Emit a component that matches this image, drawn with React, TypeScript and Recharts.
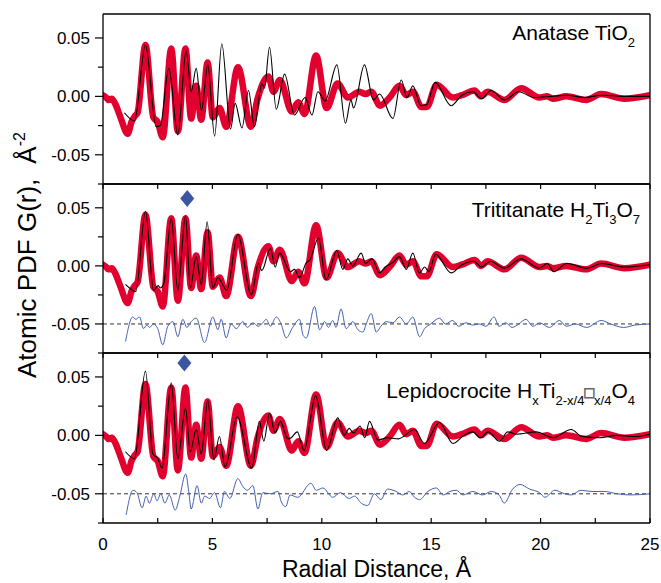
import { ComposedChart, Line, Scatter, XAxis, YAxis, ReferenceLine } from 'recharts'

type Pt = [number, number]

// experimental PDF, same data in every panel
const observed: Pt[] = [
  [0, 0.001], [0.15, -0.001], [0.25, -0.003], [0.4, -0.002], [0.55, -0.006], [0.8, -0.018],
  [1.13, -0.032], [1.3, -0.022], [1.45, -0.017], [1.58, -0.014], [1.94, 0.044], [2.3, -0.018],
  [2.5, -0.022], [2.73, -0.035], [3.12, 0.041], [3.42, -0.03], [3.77, 0.041], [4.03, -0.019],
  [4.26, 0.009], [4.49, -0.02], [4.78, 0.029], [5.02, -0.018], [5.33, -0.01], [5.63, -0.026],
  [6.17, 0.025], [6.76, -0.026], [7.08, -0.001], [7.56, 0.017], [7.79, 0.004], [8.08, 0.014],
  [8.63, -0.013], [8.92, -0.005], [9.21, -0.015], [9.74, 0.035], [10.22, -0.01], [10.72, 0.011],
  [11.19, -0.001], [11.72, 0.004], [12.0, 0.002], [12.26, 0.004], [12.66, -0.008], [13.1, -0.001],
  [13.55, 0.009], [13.86, 0.001], [14.16, 0.004], [14.55, -0.009], [14.8, -0.009], [15.25, 0.01],
  [15.99, -0.001], [16.4, 0.001], [16.98, 0.005], [17.28, 0], [17.58, 0.004], [18.35, -0.003],
  [19.11, 0.007], [19.95, -0.001], [20.3, 0], [20.56, -0.002], [21.17, 0], [22.08, -0.003],
  [22.77, 0.002], [23.83, -0.002], [25, 0.001],
]

const anataseFit: Pt[] = [
  [0.98, -0.014], [1.44, -0.021], [1.94, 0.044], [2.43, -0.026], [2.62, -0.025], [3.01, 0.024],
  [3.42, -0.033], [3.8, 0.039], [4.03, 0.004], [4.26, 0.024], [4.5, -0.012], [4.79, 0.027],
  [5.1, -0.034], [5.43, 0.045], [5.83, -0.028], [6.04, -0.006], [6.35, -0.027], [6.65, 0.005],
  [6.92, -0.026], [7.26, 0.011], [7.38, 0.007], [7.61, 0.042], [7.92, -0.011], [8.3, 0.019],
  [8.75, -0.016], [9.24, -0.001], [9.55, -0.016], [9.82, 0.004], [10.15, -0.004], [10.69, 0.027],
  [11.08, -0.023], [11.33, -0.003], [11.45, -0.01], [11.95, 0.027], [12.36, -0.003], [12.64, 0.002],
  [13.25, -0.019], [13.63, 0.014], [13.9, -0.001], [14.16, 0.009], [14.54, -0.008], [14.8, -0.007],
  [15.18, 0.012], [15.91, -0.008], [16.4, 0.001], [16.9, 0.004], [17.3, -0.002], [17.73, 0.005],
  [18.35, -0.003], [19.0, 0.004], [19.7, -0.001], [20.5, 0], [21.2, 0.001], [22.0, -0.001],
  [22.8, 0.001], [23.8, 0], [25, 0],
]

const trititanateFit: Pt[] = [
  [1.03, -0.016], [1.5, -0.022], [1.94, 0.047], [2.31, -0.021], [2.52, -0.017], [2.62, -0.019],
  [2.78, -0.015], [3.12, 0.041], [3.42, -0.021], [3.77, 0.043], [3.99, -0.019], [4.26, 0.008],
  [4.49, -0.016], [4.76, 0.038], [5.02, -0.019], [5.25, -0.01], [5.66, -0.021], [6.16, 0.027],
  [6.78, -0.025], [7.11, 0.002], [7.26, -0.004], [7.65, 0.015], [7.87, -0.001], [8.07, 0.011],
  [8.57, -0.005], [8.75, -0.003], [8.98, -0.01], [9.3, 0.003], [9.45, 0.005], [9.85, 0.024],
  [10.19, -0.012], [10.69, 0.013], [10.96, -0.003], [11.19, 0.006], [11.42, 0], [11.8, 0.011],
  [12.0, 0.002], [12.3, 0.006], [12.63, -0.006], [12.9, -0.001], [13.25, 0.003], [13.55, 0.008],
  [13.86, -0.003], [14.16, 0.011], [14.46, -0.006], [14.7, -0.001], [14.9, -0.005], [15.2, 0.01],
  [15.91, -0.006], [16.4, 0.001], [16.95, 0.004], [17.3, -0.001], [17.7, 0.004], [18.35, -0.002],
  [19.1, 0.006], [19.95, -0.002], [20.3, 0.002], [20.6, -0.005], [21.2, 0.002], [22.1, -0.002],
  [22.8, 0.002], [23.8, -0.001], [25, 0.001],
]

// difference curve, drawn offset to -0.05
const trititanateDiff: Pt[] = [
  [1.03, -0.065], [1.36, -0.044], [1.5, -0.046], [1.67, -0.044], [1.85, -0.054], [2.0, -0.051],
  [2.13, -0.053], [2.3, -0.05], [2.5, -0.054], [2.73, -0.068], [2.96, -0.052], [3.2, -0.048],
  [3.42, -0.061], [3.65, -0.046], [3.83, -0.053], [4.03, -0.048], [4.26, -0.045], [4.64, -0.066],
  [5.02, -0.044], [5.25, -0.055], [5.4, -0.046], [5.63, -0.062], [5.86, -0.05], [6.09, -0.054],
  [6.39, -0.048], [6.6, -0.053], [6.85, -0.049], [7.1, -0.052], [7.3, -0.049], [7.46, -0.046],
  [7.65, -0.052], [7.92, -0.044], [8.14, -0.05], [8.37, -0.062], [8.67, -0.053], [8.98, -0.046],
  [9.15, -0.06], [9.29, -0.062], [9.67, -0.035], [9.9, -0.055], [10.13, -0.048], [10.3, -0.053],
  [10.5, -0.047], [10.65, -0.053], [10.88, -0.037], [11.11, -0.054], [11.42, -0.048], [11.65, -0.055],
  [11.88, -0.057], [12.03, -0.05], [12.26, -0.041], [12.49, -0.057], [12.7, -0.052], [12.95, -0.048],
  [13.25, -0.049], [13.55, -0.044], [13.86, -0.05], [14.16, -0.044], [14.47, -0.061], [14.7, -0.054],
  [14.98, -0.05], [15.38, -0.045], [15.65, -0.05], [15.98, -0.047], [16.25, -0.052], [16.6, -0.049],
  [16.9, -0.051], [17.2, -0.05], [17.5, -0.052], [17.87, -0.044], [18.1, -0.052], [18.4, -0.049],
  [18.7, -0.053], [19.0, -0.05], [19.33, -0.046], [19.65, -0.052], [19.95, -0.049], [20.4, -0.053],
  [20.86, -0.047], [21.17, -0.052], [21.6, -0.05], [22.1, -0.053], [22.77, -0.047], [23.2, -0.05],
  [23.8, -0.053], [24.3, -0.051], [25, -0.05],
]

const lepidoFit: Pt[] = [
  [1.03, -0.014], [1.44, -0.02], [1.94, 0.055], [2.28, -0.016], [2.51, -0.02], [2.7, -0.028],
  [3.12, 0.045], [3.42, -0.02], [3.77, 0.023], [3.99, -0.014], [4.26, 0.005], [4.49, -0.016],
  [4.79, 0.03], [5.07, -0.021], [5.32, -0.001], [5.58, -0.027], [6.13, 0.016], [6.8, -0.028],
  [7.15, 0.012], [7.35, -0.005], [7.61, 0.019], [7.87, 0.002], [8.1, 0.012], [8.45, -0.003],
  [8.6, -0.002], [8.88, 0.003], [9.19, -0.013], [9.72, 0.034], [10.22, -0.013], [10.73, 0.015],
  [11.03, 0], [11.25, 0.006], [11.45, 0.002], [11.75, 0.008], [11.96, -0.002], [12.18, 0.012],
  [12.56, -0.004], [13.0, -0.002], [13.5, -0.003], [14.24, 0.005], [14.69, -0.007], [15.38, 0.011],
  [15.99, -0.007], [16.5, 0], [16.9, 0.003], [17.25, -0.002], [17.6, 0.003], [18.12, -0.005],
  [18.5, 0.003], [18.9, 0.001], [19.8, 0.003], [20.56, -0.002], [21.4, 0.005], [21.9, -0.001],
  [22.7, -0.002], [23.5, 0], [24.3, -0.001], [25, 0.001],
]

const lepidoDiff: Pt[] = [
  [1.06, -0.068], [1.37, -0.047], [1.55, -0.049], [1.79, -0.062], [1.97, -0.052], [2.12, -0.058],
  [2.32, -0.05], [2.47, -0.056], [2.64, -0.05], [2.83, -0.058], [3.03, -0.051], [3.3, -0.064],
  [3.51, -0.052], [3.78, -0.033], [3.92, -0.048], [4.03, -0.063], [4.3, -0.043], [4.49, -0.058],
  [4.65, -0.052], [4.87, -0.054], [5.1, -0.049], [5.37, -0.062], [5.55, -0.048], [5.8, -0.054],
  [6.16, -0.037], [6.4, -0.044], [6.6, -0.047], [6.85, -0.043], [7.08, -0.063], [7.3, -0.049],
  [7.65, -0.05], [8.0, -0.048], [8.15, -0.057], [8.35, -0.061], [8.55, -0.051], [8.9, -0.053],
  [9.5, -0.041], [9.75, -0.047], [10.05, -0.045], [10.5, -0.053], [10.85, -0.049], [11.25, -0.054],
  [11.5, -0.052], [11.8, -0.058], [12.1, -0.06], [12.4, -0.05], [12.7, -0.055], [13.0, -0.046],
  [13.4, -0.048], [13.7, -0.051], [14.0, -0.048], [14.24, -0.053], [14.47, -0.055], [14.85, -0.048],
  [15.23, -0.045], [15.55, -0.051], [15.85, -0.048], [16.15, -0.047], [16.45, -0.051], [16.9, -0.048],
  [17.35, -0.051], [17.75, -0.048], [18.1, -0.051], [18.34, -0.058], [18.72, -0.046], [19.06, -0.042],
  [19.5, -0.046], [19.95, -0.049], [20.2, -0.053], [20.65, -0.047], [21.1, -0.05], [21.4, -0.051],
  [21.85, -0.047], [22.3, -0.048], [22.9, -0.048], [23.5, -0.05], [24.1, -0.051], [25, -0.05],
]

const trititanateMarker: Pt[] = [[3.85, 0.058]]
const lepidoMarker: Pt[] = [[3.72, 0.062]]

const xTicks = [0, 2.5, 5, 7.5, 10, 12.5, 15, 17.5, 20, 22.5, 25]
const yTicks = [-0.075, -0.05, -0.025, 0, 0.025, 0.05]
const yLabelled = [-0.05, 0, 0.05]
const yDomain: [number, number] = [-0.075, 0.0705]
const diffBaseline = -0.05

const FONT = '"Liberation Sans", Arial, Helvetica, sans-serif'
const RED = '#e2002f'
const BLUE = '#4461b0'
const AXIS = { stroke: '#000', strokeWidth: 1.3 }

const rows = (pts: Pt[]) => pts.map(([r, g]) => ({ r, g }))

function YTick(props: any) {
  const { x, y, payload } = props
  const v = payload.value as number
  const labelled = yLabelled.some((t) => Math.abs(t - v) < 1e-9)
  return (
    <g>
      <line x1={x - (labelled ? 8 : 5)} x2={x} y1={y} y2={y} stroke="#000" strokeWidth={1.2} />
      {labelled && (
        <text x={x - 13} y={y} dy="0.36em" textAnchor="end" fontSize={17} fontFamily={FONT} fill="#000">
          {v.toFixed(2)}
        </text>
      )}
    </g>
  )
}

function XTickBottom(props: any) {
  const { x, y, payload } = props
  const v = payload.value as number
  return (
    <g>
      <line x1={x} x2={x} y1={y} y2={y - 5} stroke="#000" strokeWidth={1.2} />
      {v % 5 === 0 && (
        <text x={x} y={y + 27} textAnchor="middle" fontSize={17} fontFamily={FONT} fill="#000">
          {v}
        </text>
      )}
    </g>
  )
}

function XTickTop(props: any) {
  const { x, y } = props
  return <line x1={x} x2={x} y1={y} y2={y + 5} stroke="#000" strokeWidth={1.2} />
}

function Diamond(props: any) {
  const { cx, cy } = props
  return <polygon points={`${cx},${cy - 8.5} ${cx + 7},${cy} ${cx},${cy + 8.5} ${cx - 7},${cy}`} fill="#3d55a3" />
}

interface PanelProps {
  top: number
  height: number
  mTop: number
  mBottom: number
  fit: Pt[]
  diff?: Pt[]
  marker?: Pt[]
  topTicks: boolean
  bottomTicks: boolean
}

// each axis takes 1px of space, the margins make up the rest
function Panel({ top, height, mTop, mBottom, fit, diff, marker, topTicks, bottomTicks }: PanelProps) {
  return (
    <div style={{ position: 'absolute', left: 0, top, width: 661, height }}>
      <ComposedChart
        width={661}
        height={height}
        margin={{ top: mTop - 1, right: 10, bottom: mBottom - 1, left: 102 }}
        style={{ overflow: 'visible' }}
      >
        <XAxis
          xAxisId="b"
          type="number"
          dataKey="r"
          domain={[0, 25]}
          ticks={xTicks}
          interval={0}
          allowDataOverflow
          height={1}
          tickSize={0}
          tickMargin={0}
          tickLine={false}
          tick={bottomTicks ? (p: any) => <XTickBottom {...p} /> : false}
          axisLine={AXIS}
        />
        <XAxis
          xAxisId="t"
          orientation="top"
          type="number"
          dataKey="r"
          domain={[0, 25]}
          ticks={xTicks}
          interval={0}
          allowDataOverflow
          height={1}
          tickSize={0}
          tickMargin={0}
          tickLine={false}
          tick={topTicks ? (p: any) => <XTickTop {...p} /> : false}
          axisLine={AXIS}
        />
        <YAxis
          yAxisId="l"
          type="number"
          dataKey="g"
          domain={yDomain}
          ticks={yTicks}
          interval={0}
          allowDataOverflow
          width={1}
          tickSize={0}
          tickMargin={0}
          tickLine={false}
          tick={(p: any) => <YTick {...p} />}
          axisLine={AXIS}
        />
        <YAxis
          yAxisId="r"
          orientation="right"
          type="number"
          dataKey="g"
          domain={yDomain}
          allowDataOverflow
          width={1}
          tick={false}
          tickLine={false}
          axisLine={AXIS}
        />
        {diff && (
          <ReferenceLine xAxisId="b" yAxisId="l" y={diffBaseline} stroke="#333" strokeWidth={1} strokeDasharray="4 3" />
        )}
        <Line
          xAxisId="b"
          yAxisId="l"
          data={rows(observed)}
          dataKey="g"
          type="monotone"
          stroke={RED}
          strokeWidth={6.5}
          strokeLinecap="round"
          strokeLinejoin="round"
          dot={false}
          isAnimationActive={false}
        />
        <Line
          xAxisId="b"
          yAxisId="l"
          data={rows(fit)}
          dataKey="g"
          type="monotone"
          stroke="#000"
          strokeWidth={1.1}
          dot={false}
          isAnimationActive={false}
        />
        {diff && (
          <Line
            xAxisId="b"
            yAxisId="l"
            data={rows(diff)}
            dataKey="g"
            type="monotone"
            stroke={BLUE}
            strokeWidth={1}
            dot={false}
            isAnimationActive={false}
          />
        )}
        {marker && (
          <Scatter
            xAxisId="b"
            yAxisId="l"
            data={rows(marker)}
            dataKey="g"
            shape={(p: any) => <Diamond {...p} />}
            isAnimationActive={false}
          />
        )}
      </ComposedChart>
    </div>
  )
}

export default function App() {
  const sub = { fontSize: 13 }
  return (
    <div style={{ position: 'absolute', left: 0, top: 0, width: 661, height: 583, background: '#fff' }}>
      <Panel top={0} height={186} mTop={14} mBottom={2} fit={anataseFit} topTicks={false} bottomTicks={false} />
      <Panel
        top={180}
        height={175}
        mTop={4}
        mBottom={2}
        fit={trititanateFit}
        diff={trititanateDiff}
        marker={trititanateMarker}
        topTicks
        bottomTicks={false}
      />
      <Panel
        top={349}
        height={234}
        mTop={4}
        mBottom={60}
        fit={lepidoFit}
        diff={lepidoDiff}
        marker={lepidoMarker}
        topTicks
        bottomTicks
      />
      <svg
        width={661}
        height={583}
        style={{ position: 'absolute', left: 0, top: 0, pointerEvents: 'none' }}
        fontFamily={FONT}
        fill="#000"
      >
        <text x={376.5} y={577} textAnchor="middle" fontSize={23}>
          Radial Distance, Å
        </text>
        <text transform="translate(36, 378) rotate(-90)" fontSize={26}>
          Atomic PDF G(r),
          <tspan dx={15}>Å</tspan>
          <tspan dy={-11} fontSize={16}>-2</tspan>
        </text>
        <text x={635} y={40} textAnchor="end" fontSize={21}>
          Anatase TiO<tspan dy={7} {...sub}>2</tspan>
        </text>
        <text x={640} y={217} textAnchor="end" fontSize={21}>
          Trititanate H<tspan dy={7} {...sub}>2</tspan>
          <tspan dy={-7}>Ti</tspan>
          <tspan dy={7} {...sub}>3</tspan>
          <tspan dy={-7}>O</tspan>
          <tspan dy={7} {...sub}>7</tspan>
        </text>
        <text x={635} y={398} textAnchor="end" fontSize={21}>
          Lepidocrocite H<tspan dy={7} {...sub}>x</tspan>
          <tspan dy={-7}>Ti</tspan>
          <tspan dy={7} {...sub}>2-x/4</tspan>
          <tspan dy={-7} fill="none" stroke="#666" strokeWidth={0.8} fontSize={16}>□</tspan>
          <tspan dy={7} {...sub}>x/4</tspan>
          <tspan dy={-7}>O</tspan>
          <tspan dy={7} {...sub}>4</tspan>
        </text>
      </svg>
    </div>
  )
}
